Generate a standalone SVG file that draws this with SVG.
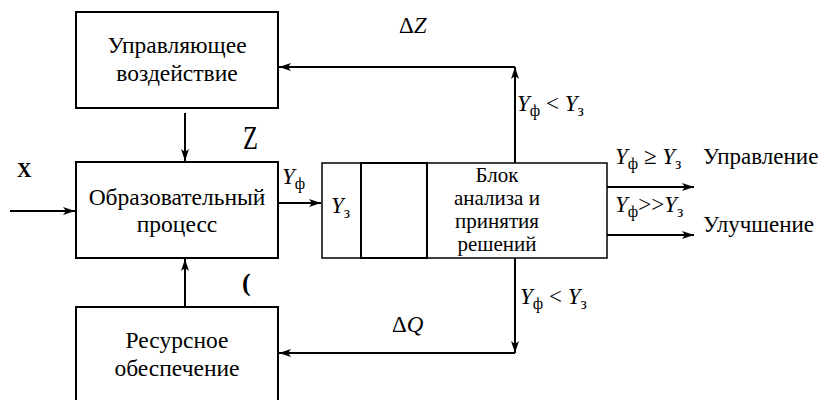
<svg xmlns="http://www.w3.org/2000/svg" width="822" height="400" viewBox="0 0 822 400">
<style>
text{font-family:"Liberation Serif","Times New Roman",serif}
.box{fill:#fff;stroke:#000;stroke-width:2}
.thin{fill:none;stroke:#000;stroke-width:1.5}
.ln{fill:none;stroke:#000;stroke-width:2}
.lbl{font-size:23.5px;text-anchor:middle}
.blk{font-size:21px;text-anchor:middle}
.m{font-size:23px}
.i{font-style:italic}
.sub{font-size:16px}
</style>
<defs>
<marker id="ah" viewBox="0 0 12 8" refX="12" refY="4" markerWidth="12" markerHeight="8" markerUnits="userSpaceOnUse" orient="auto">
<path d="M0,0 L12,4 L0,8 L3,4 Z" fill="#000"/>
</marker>
</defs>
<rect width="822" height="400" fill="#fff"/>
<g id="n-control">
<rect class="box" x="76" y="12" width="202" height="96"/>
<text class="lbl" x="177" y="53">Управляющее</text>
<text class="lbl" x="177" y="81">воздействие</text>
</g>
<g id="n-process">
<rect class="box" x="76" y="162" width="202" height="96"/>
<text class="lbl" x="177" y="205">Образовательный</text>
<text class="lbl" x="177" y="232">процесс</text>
</g>
<g id="n-resource">
<rect class="box" x="76" y="307" width="202" height="100"/>
<text class="lbl" x="177" y="348">Ресурсное</text>
<text class="lbl" x="177" y="376">обеспечение</text>
</g>
<g id="n-block">
<rect class="thin" x="322" y="163" width="285" height="95"/>
<rect class="box" x="361" y="163" width="66" height="95"/>
<text class="m i" x="331" y="213">Y<tspan class="sub" font-style="normal" dy="5">з</tspan></text>
<text class="blk" x="497" y="182">Блок</text>
<text class="blk" x="497" y="205">анализа и</text>
<text class="blk" x="497" y="228">принятия</text>
<text class="blk" x="497" y="251">решений</text>
</g>
<g id="connectors">
<line class="ln" x1="185" y1="113" x2="185" y2="161" marker-end="url(#ah)"/>
<line class="ln" x1="185" y1="307" x2="185" y2="259" marker-end="url(#ah)"/>
<line class="ln" x1="10" y1="211" x2="75" y2="211" marker-end="url(#ah)"/>
<line class="ln" x1="278" y1="203" x2="321" y2="203" marker-end="url(#ah)"/>
<line class="ln" x1="515" y1="163" x2="515" y2="67" marker-end="url(#ah)"/>
<line class="ln" x1="515" y1="67" x2="279" y2="67" marker-end="url(#ah)"/>
<line class="ln" x1="515" y1="258" x2="515" y2="353" marker-end="url(#ah)"/>
<line class="ln" x1="515" y1="353" x2="279" y2="353" marker-end="url(#ah)"/>
<line class="ln" x1="607" y1="187" x2="694" y2="187" marker-end="url(#ah)"/>
<line class="ln" x1="607" y1="235" x2="694" y2="235" marker-end="url(#ah)"/>
</g>
<g id="labels">
<text x="17" y="177" font-size="20" font-weight="bold">X</text>
<text x="0" y="0" font-size="34" transform="translate(243,149) scale(0.72,1)">Z</text>
<text x="242" y="291" font-size="26" font-weight="bold">(</text>
<text class="m i" x="282" y="184">Y<tspan class="sub" font-style="normal" dy="5">ф</tspan></text>
<text class="m" x="399" y="33">Δ<tspan class="i">Z</tspan></text>
<text class="m" x="392" y="332">Δ<tspan class="i">Q</tspan></text>
<text class="m" x="517" y="111"><tspan class="i">Y</tspan><tspan class="sub" dy="5">ф</tspan><tspan dy="-5"> &lt; </tspan><tspan class="i">Y</tspan><tspan class="sub" dy="5">з</tspan></text>
<text class="m" x="520" y="304"><tspan class="i">Y</tspan><tspan class="sub" dy="5">ф</tspan><tspan dy="-5"> &lt; </tspan><tspan class="i">Y</tspan><tspan class="sub" dy="5">з</tspan></text>
<text class="m" x="615" y="164"><tspan class="i">Y</tspan><tspan class="sub" dy="5">ф</tspan><tspan dy="-5"> ≥ </tspan><tspan class="i">Y</tspan><tspan class="sub" dy="5">з</tspan></text>
<text class="m" x="615" y="212"><tspan class="i">Y</tspan><tspan class="sub" dy="5">ф</tspan><tspan dy="-5">&gt;&gt;</tspan><tspan class="i">Y</tspan><tspan class="sub" dy="5">з</tspan></text>
<text x="703" y="164" font-size="23">Управление</text>
<text x="703" y="232" font-size="23">Улучшение</text>
</g>
</svg>
